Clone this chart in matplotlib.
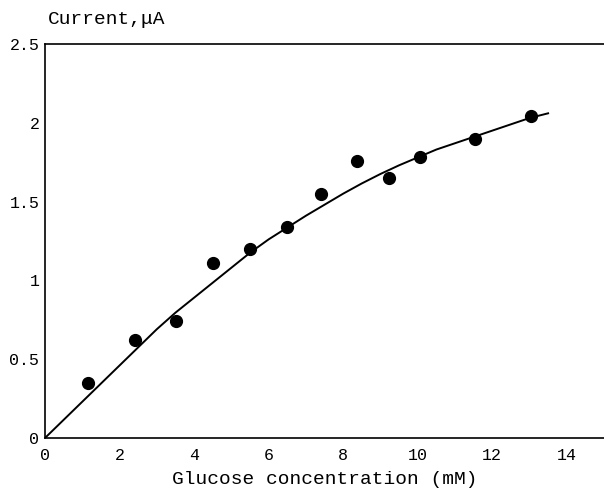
import matplotlib
matplotlib.use("Agg")
import matplotlib.pyplot as plt

# measured points
glucose = [1.15, 2.41, 3.51, 4.50, 5.50, 6.49, 7.40, 8.36, 9.22, 10.05, 11.55, 13.03]
current = [0.35, 0.62, 0.74, 1.11, 1.20, 1.34, 1.55, 1.76, 1.65, 1.78, 1.90, 2.04]

# fitted curve
fit_x = [0, 0.5, 1, 1.5, 2, 2.5, 3, 3.5, 4, 4.5, 5, 5.5, 6, 6.5, 7, 7.5, 8, 8.5,
         9, 9.5, 10, 10.5, 11, 11.5, 12, 12.5, 13, 13.5]
fit_y = [0, 0.115, 0.23, 0.345, 0.46, 0.575, 0.69, 0.795, 0.89, 0.985, 1.08, 1.175,
         1.26, 1.335, 1.41, 1.48, 1.55, 1.615, 1.675, 1.73, 1.78, 1.83, 1.87, 1.91,
         1.95, 1.99, 2.03, 2.06]

xticks = [0, 2, 4, 6, 8, 10, 12, 14]
yticks = [0, 0.5, 1, 1.5, 2, 2.5]
ytick_labels = ["0", "0.5", "1", "1.5", "2", "2.5"]

plt.rcParams["font.family"] = ["Liberation Mono", "DejaVu Sans Mono"]

fig = plt.figure(figsize=(6.04, 4.94), dpi=100)
ax = fig.add_axes([0.0745, 0.1134, 0.9255, 0.7976])

ax.plot(fit_x, fit_y, color="black", lw=1.4)
ax.plot(glucose, current, "o", color="black", markersize=8.5)

ax.set_xlim(0, 15)
ax.set_ylim(0, 2.5)
ax.set_xticks(xticks)
ax.set_yticks(yticks)
ax.set_yticklabels(ytick_labels)
ax.tick_params(length=0, labelsize=12)
ax.tick_params(axis="y", pad=4)
ax.tick_params(axis="x", pad=7)

ax.spines["right"].set_visible(False)
for s in ["left", "bottom", "top"]:
    ax.spines[s].set_linewidth(1.2)

ax.set_xlabel("Glucose concentration (mM)", fontsize=14, labelpad=6)
fig.text(48 / 604, 1 - 20 / 494, "Current,\u03bcA", fontsize=14, va="center", ha="left")

fig.savefig("out.png", dpi=100)
